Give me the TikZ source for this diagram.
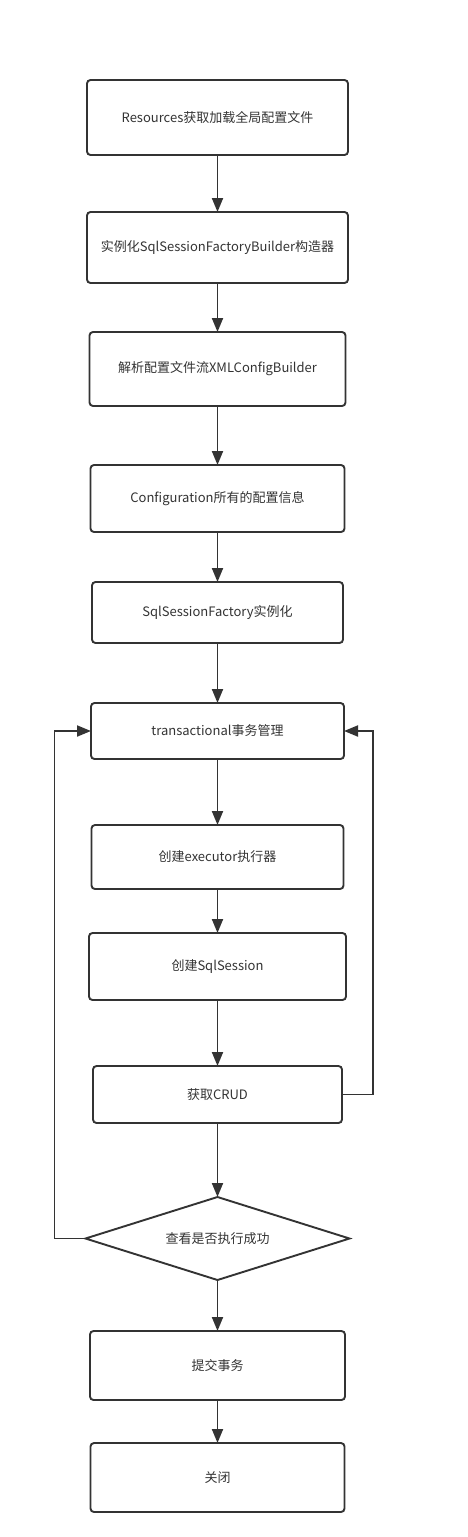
\documentclass[tikz,border=0pt]{standalone}
\usepackage{fontspec}
\setmainfont{Noto Sans CJK SC}
\usepackage{xcolor}
\usepackage{tikz}
\usetikzlibrary{positioning, shapes.geometric, arrows.meta}

\definecolor{linegray}{HTML}{333333}
\definecolor{textgray}{HTML}{333333}

\begin{document}
\begin{tikzpicture}[
  x=1pt, y=1pt,
  node distance=50pt,
  font=\fontsize{13}{15}\selectfont,
  box/.style={draw=linegray, line width=1.9pt, rounded corners=3.5pt, align=center,
    text=textgray, inner sep=0pt, outer sep=0pt, minimum width=254pt, minimum height=66pt},
  check/.style={draw=linegray, line width=1.9pt, diamond, shape aspect=3.18, text=textgray,
    inner sep=0pt, outer sep=0pt, minimum width=264pt, minimum height=83pt},
  arr/.style={draw=linegray, line width=1.9pt, -{Triangle[length=14pt, width=11pt]}}
]
\useasboundingbox (0,0) rectangle (468,-1537);

\node[box, minimum width=261pt, minimum height=75pt] (res) at (217.5,-117.5) {Resources获取加载全局配置文件};
\node[box, below=57pt of res, minimum width=261pt, minimum height=71pt] (builder) {实例化SqlSessionFactoryBuilder构造器};
\node[box, below=49pt of builder, minimum width=256pt, minimum height=74pt] (xml) {解析配置文件流XMLConfigBuilder};
\node[box, below=59pt of xml, minimum height=67pt] (conf) {Configuration所有的配置信息};
\node[box, below=50pt of conf, minimum width=251pt, minimum height=61pt] (factory) {SqlSessionFactory实例化};
\node[box, below=60pt of factory, minimum width=253pt, minimum height=56pt] (trans) {transactional事务管理};
\node[box, below=66pt of trans, minimum width=252pt, minimum height=64pt] (exec) {创建executor执行器};
\node[box, below=44pt of exec, minimum width=257pt, minimum height=67pt] (session) {创建SqlSession};
\node[box, below=66pt of session, minimum width=249pt, minimum height=57pt] (crud) {获取CRUD};
\node[check, below=74pt of crud] (ok) {查看是否执行成功};
\node[box, below=51pt of ok, minimum width=255pt, minimum height=69pt] (commit) {提交事务};
\node[box, below=43pt of commit, minimum height=69pt] (close) {关闭};

% main flow
\draw[arr] (res) -- (builder);
\draw[arr] (builder) -- (xml);
\draw[arr] (xml) -- (conf);
\draw[arr] (conf) -- (factory);
\draw[arr] (factory) -- (trans);
\draw[arr] (trans) -- (exec);
\draw[arr] (exec) -- (session);
\draw[arr] (session) -- (crud);
\draw[arr] (crud) -- (ok);
\draw[arr] (ok) -- (commit);
\draw[arr] (commit) -- (close);

% loops back to the transaction
\draw[arr] (ok.west) -- ++(-31,0) |- (trans.west);
\draw[arr] (crud.east) -- ++(31,0) |- (trans.east);
\end{tikzpicture}
\end{document}
